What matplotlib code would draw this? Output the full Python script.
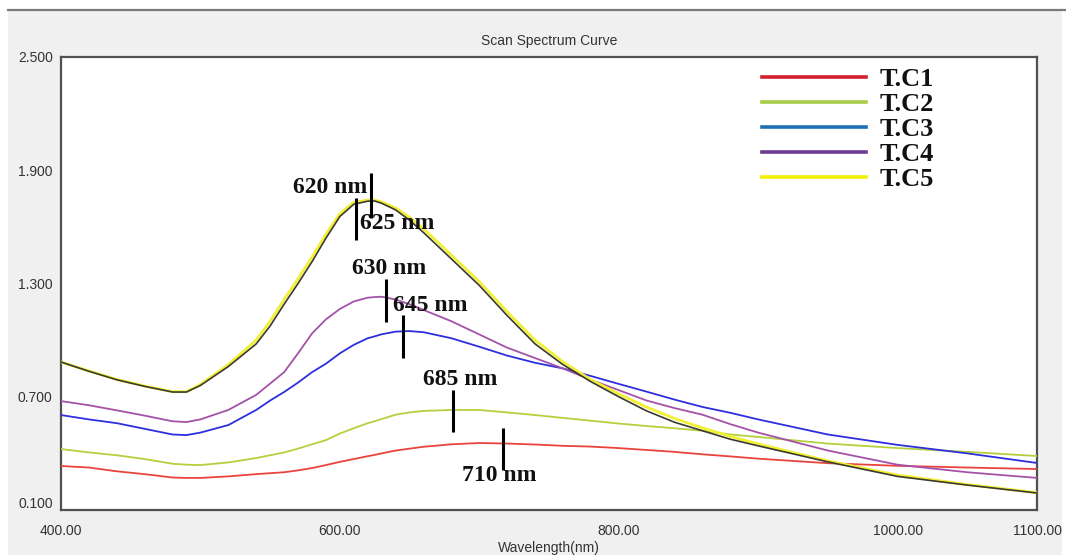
import matplotlib
matplotlib.use("Agg")
import matplotlib.pyplot as plt
from matplotlib.patches import Rectangle
from matplotlib.lines import Line2D
from matplotlib.transforms import ScaledTranslation

# ---------------- data ----------------
wavelength = [400, 420, 440, 460, 480, 490, 500, 520, 540, 550, 560, 570, 580, 590, 600, 610,
              620, 625, 630, 640, 650, 660, 680, 700, 720, 740, 760, 780, 800, 820, 840,
              860, 880, 900, 950, 1000, 1050, 1100]

tc1 = [0.333, 0.325, 0.305, 0.290, 0.272, 0.270, 0.270, 0.278, 0.290, 0.295, 0.300, 0.310,
       0.322, 0.338, 0.355, 0.370, 0.385, 0.392, 0.400, 0.415, 0.425, 0.435, 0.448, 0.455,
       0.452, 0.447, 0.440, 0.436, 0.428, 0.418, 0.408, 0.395, 0.384, 0.372, 0.348, 0.334,
       0.325, 0.317]
tc2 = [0.423, 0.405, 0.390, 0.370, 0.345, 0.340, 0.338, 0.352, 0.375, 0.390, 0.405, 0.425,
       0.448, 0.470, 0.505, 0.533, 0.560, 0.570, 0.582, 0.605, 0.617, 0.625, 0.630, 0.630,
       0.617, 0.603, 0.588, 0.573, 0.558, 0.545, 0.533, 0.520, 0.500, 0.487, 0.452, 0.428,
       0.408, 0.386]
tc3 = [0.603, 0.580, 0.560, 0.530, 0.500, 0.497, 0.510, 0.550, 0.630, 0.680, 0.725, 0.775,
       0.830, 0.875, 0.930, 0.975, 1.010, 1.020, 1.031, 1.045, 1.048, 1.042, 1.010, 0.965,
       0.918, 0.880, 0.850, 0.810, 0.768, 0.727, 0.685, 0.646, 0.615, 0.580, 0.500, 0.445,
       0.400, 0.349]
tc4 = [0.677, 0.655, 0.628, 0.600, 0.570, 0.566, 0.580, 0.630, 0.710, 0.770, 0.830, 0.930,
       1.035, 1.110, 1.165, 1.205, 1.225, 1.228, 1.230, 1.215, 1.190, 1.160, 1.100, 1.030,
       0.960, 0.905, 0.850, 0.790, 0.735, 0.680, 0.640, 0.605, 0.555, 0.510, 0.415, 0.340,
       0.300, 0.270]
tc5 = [0.884, 0.837, 0.792, 0.757, 0.727, 0.727, 0.765, 0.870, 1.000, 1.100, 1.215, 1.325,
       1.440, 1.560, 1.670, 1.730, 1.742, 1.742, 1.732, 1.700, 1.650, 1.590, 1.450, 1.310,
       1.150, 1.000, 0.885, 0.790, 0.715, 0.645, 0.585, 0.535, 0.490, 0.450, 0.360, 0.285,
       0.235, 0.192]
dark = [0.884, 0.835, 0.790, 0.755, 0.725, 0.725, 0.760, 0.860, 0.980, 1.075, 1.190, 1.300,
        1.415, 1.540, 1.655, 1.720, 1.736, 1.737, 1.725, 1.690, 1.635, 1.570, 1.430, 1.290,
        1.130, 0.980, 0.870, 0.780, 0.700, 0.625, 0.565, 0.520, 0.475, 0.440, 0.355, 0.278,
        0.232, 0.190]

series_labels = ["T.C1", "T.C2", "T.C3", "T.C4", "T.C5"]
line_colors = ["#e8443c", "#b4d03c", "#2e2ee0", "#a452a8", "#f2f032"]
legend_colors = ["#d4202c", "#a6cc48", "#1f6fb4", "#6a3a96", "#f0f000"]

xticks = [400, 600, 800, 1000, 1100]
xtick_labels = ["400.00", "600.00", "800.00", "1000.00", "1100.00"]
yticks = [0.1, 0.7, 1.3, 1.9, 2.5]
ytick_labels = ["0.100", "0.700", "1.300", "1.900", "2.500"]

# peak annotations: label, marker x (nm), marker y0, y1, text x (nm), text y
ann_labels = ["620 nm", "625 nm", "630 nm", "645 nm", "685 nm", "710 nm"]
ann_mark_x = [622.4, 611.6, 633.1, 645.3, 681.2, 717.1]
ann_mark_y0 = [1.647, 1.530, 1.096, 0.905, 0.513, 0.312]
ann_mark_y1 = [1.885, 1.753, 1.324, 1.133, 0.736, 0.534]
ann_text_x = [566.4, 614.5, 608.8, 638.2, 659.7, 687.7]
ann_text_y = [1.806, 1.620, 1.382, 1.186, 0.789, 0.285]

# ---------------- figure ----------------
W, H = 1066, 557
fig = plt.figure(figsize=(W / 100, H / 100), dpi=100)
fig.patch.set_facecolor("white")

# grey window panel
fig.patches.append(Rectangle((8 / W, 2 / H), (1062 - 8) / W, (547 - 2) / H,
                             transform=fig.transFigure, facecolor="#f0f0f0",
                             edgecolor="none", zorder=-5))
fig.lines.append(Line2D([8 / W, 1.0], [1 - 10 / H, 1 - 10 / H], transform=fig.transFigure,
                        color="#7a7a7a", lw=1.6, zorder=-4))

ax = fig.add_axes([61 / W, 1 - 510 / H, (1037 - 61) / W, (510 - 57) / H])
ax.set_zorder(2)
ax.set_facecolor("white")

series = [tc1, tc2, tc3, tc4, tc5]
for vals, c in zip(series[:4], line_colors[:4]):
    ax.plot(wavelength, vals, color=c, lw=1.3, zorder=3)
ax.plot(wavelength, tc5, color=line_colors[4], lw=2.0, zorder=3)
ax.plot(wavelength, dark, color="#3a3a30", lw=1.2, zorder=4)

ax.set_xlim(400, 1100)
ax.set_ylim(0.1, 2.5)
ax.set_xticks(xticks)
ax.set_xticklabels(xtick_labels)
ax.set_yticks(yticks)
ax.set_yticklabels(ytick_labels)
ax.tick_params(axis="both", length=0, labelsize=10, labelcolor="#333333")
ax.tick_params(axis="y", pad=6)
ax.tick_params(axis="x", pad=10)
for lab in ax.get_xticklabels() + ax.get_yticklabels():
    lab.set_family("Liberation Sans")
# lowest y label sits a little above the axis bottom in the reference
low = ax.get_yticklabels()[0]
low.set_transform(low.get_transform() + ScaledTranslation(0, 8 / 100, fig.dpi_scale_trans))
for s in ax.spines.values():
    s.set_color("#505050")
    s.set_linewidth(1.6)

ax.set_title("Scan Spectrum Curve", fontsize=10, family="Liberation Sans",
             color="#333333", pad=9)
ax.set_xlabel("Wavelength(nm)", fontsize=10, family="Liberation Sans",
              color="#333333", labelpad=2)

# annotations
for lab, mx, y0, y1, tx, ty in zip(ann_labels, ann_mark_x, ann_mark_y0, ann_mark_y1,
                                   ann_text_x, ann_text_y):
    ax.plot([mx, mx], [y0, y1], color="black", lw=2.2, zorder=6, solid_capstyle="butt")
    ax.text(tx, ty, lab, family="Liberation Serif", fontweight="bold", fontsize=17,
            color="#111111", ha="left", va="center", zorder=7)

# legend
handles = [Line2D([0], [0], color=c, lw=2.6) for c in legend_colors]
leg = ax.legend(handles, series_labels, loc="upper left", bbox_to_anchor=(0.707, 1.000),
                frameon=False, handlelength=3.95, handletextpad=0.53, labelspacing=0.06,
                prop={"family": "Liberation Serif", "weight": "bold", "size": 19},
                borderaxespad=0.0)
for t in leg.get_texts():
    t.set_color("#111111")

fig.savefig("out.png", dpi=100, facecolor=fig.get_facecolor())
